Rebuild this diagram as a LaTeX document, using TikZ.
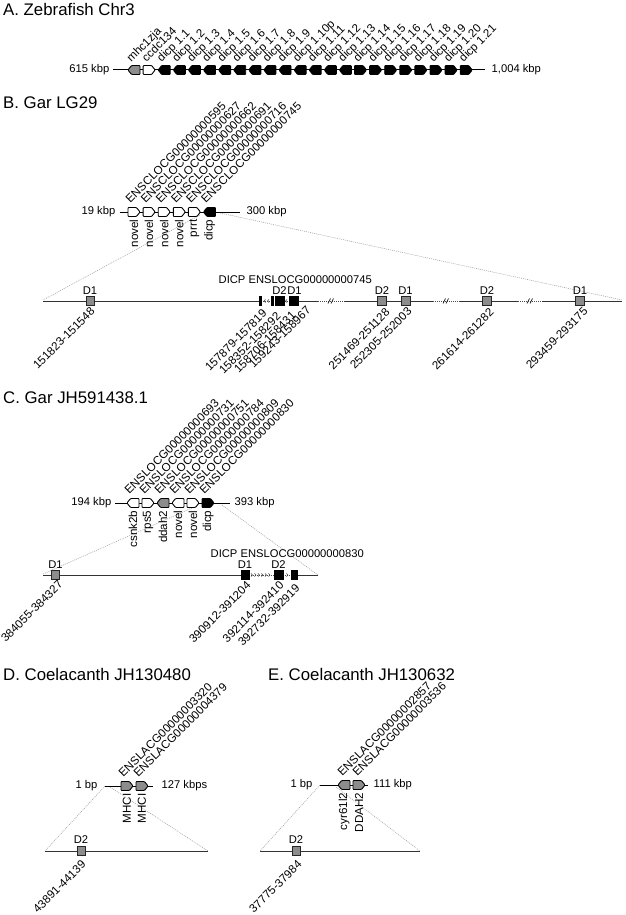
\documentclass[tikz,border=0pt]{standalone}
\usepackage{fontspec}
\setmainfont{Liberation Sans}
\newcommand{\geneR}[3]{\filldraw[genebox,fill=#3] (#1,{#2-4.5}) -- ({#1+8.5},{#2-4.5}) -- ({#1+12},#2) -- ({#1+8.5},{#2+4.5}) -- (#1,{#2+4.5}) -- cycle;}
\newcommand{\geneL}[3]{\filldraw[genebox,fill=#3] ({#1+12},{#2-4.5}) -- ({#1+3.5},{#2-4.5}) -- (#1,#2) -- ({#1+3.5},{#2+4.5}) -- ({#1+12},{#2+4.5}) -- cycle;}
\newcommand{\exonbox}[4]{\filldraw[#4] ({#1-#3/2},{#2-4.5}) rectangle ({#1+#3/2},{#2+4.5});}
\newcommand{\brkmark}[2]{\draw[brk] ({#1-3},{#2+2.5}) -- ({#1-0.5},{#2-2.5}) ({#1},{#2+2.5}) -- ({#1+2.5},{#2-2.5});}
\newcommand{\chevL}[2]{\draw[chev] ({#1+1.5},{#2-1.6}) -- (#1,#2) -- ({#1+1.5},{#2+1.6});}
\newcommand{\chevR}[2]{\draw[chev] ({#1-1.5},{#2-1.6}) -- (#1,#2) -- ({#1-1.5},{#2+1.6});}
\begin{document}
\begin{tikzpicture}[x=1pt,y=-1pt,
  title/.style={font=\fontsize{16.8}{19}\selectfont, anchor=base west, inner sep=0pt},
  lab/.style={font=\fontsize{11.2}{13}\selectfont, inner sep=0.5pt},
  rlab/.style={font=\fontsize{11.6}{13}\selectfont, inner sep=0.5pt},
  genebox/.style={draw=black, line width=0.9pt, rounded corners=0.8pt},
  chrline/.style={draw=black, line width=1pt},
  axisline/.style={draw=black!80, line width=1pt},
  guide/.style={draw=black!40, line width=0.5pt, dash pattern=on 1pt off 1pt},
  exonG/.style={draw=black!85, fill=black!45, line width=0.9pt},
  exonK/.style={fill=black},
  intron/.style={draw=black!70, line width=0.7pt, dash pattern=on 1pt off 1pt},
  chev/.style={draw=black!75, line width=0.55pt},
  brk/.style={draw=black!80, line width=0.7pt},
  rng/.style={rlab, rotate=45, anchor=east},
  upl/.style={rlab, rotate=45, anchor=base west},
  dnl/.style={rlab, rotate=90, anchor=east},
  exl/.style={lab, anchor=base},
]
\useasboundingbox (0,0) rectangle (625,915);

% ---------------- guides (behind) ----------------
\draw[guide] (200,215) -- (43,300);
\draw[guide] (220,213) -- (622,300);
\draw[guide] (192,508) -- (43,574);
\draw[guide] (222,505) -- (318,575);
\draw[guide] (105,786) -- (45,851);
\draw[guide] (110,787) -- (208,851);
\draw[guide] (320,785) -- (260,851);
\draw[guide] (336,787) -- (420,851);

% ---------------- Panel A ----------------
\node[title] (tA) at (3,16) {A. Zebrafish Chr3};
\node[lab, anchor=east] (kA1) at (110,70) {615 kbp};
\node[lab, anchor=west] (kA2) at (491,70) {1,004 kbp};
\draw[chrline] (113,70) -- (485,70);
\foreach \i/\g/\c/\t in {0/\geneL/black!45/mhc1zja,1/\geneR/white/ccdc134,
  2/\geneL/black/dicp 1.1,3/\geneL/black/dicp 1.2,4/\geneL/black/dicp 1.3,
  5/\geneL/black/dicp 1.4,6/\geneL/black/dicp 1.5,7/\geneL/black/dicp 1.6,
  8/\geneL/black/dicp 1.7,9/\geneL/black/dicp 1.8,10/\geneL/black/dicp 1.9,
  11/\geneL/black/dicp 1.10p,12/\geneL/black/dicp 1.11,13/\geneL/black/dicp 1.12,
  14/\geneL/black/dicp 1.13,15/\geneR/black/dicp 1.14,16/\geneR/black/dicp 1.15,
  17/\geneR/black/dicp 1.16,18/\geneR/black/dicp 1.17,19/\geneR/black/dicp 1.18,
  20/\geneR/black/dicp 1.19,21/\geneR/black/dicp 1.20,22/\geneR/black/dicp 1.21}{
  \pgfmathsetmacro{\x}{128+15.1*\i}
  \g{\x}{70}{\c}
  \node[upl] (la\i) at (\x+3,63) {\t};
}

% ---------------- Panel B ----------------
\node[title] (tB) at (3,109) {B. Gar LG29};
\node[lab, anchor=east] (kB1) at (116,212) {19 kbp};
\node[lab, anchor=west] (kB2) at (246,212) {300 kbp};
\draw[chrline] (120,212) -- (240,212);
\foreach \i/\g/\c/\t/\b in {0/\geneR/white/ENSCLOCG00000000595/novel,
  1/\geneR/white/ENSCLOCG00000000627/novel,2/\geneR/white/ENSCLOCG00000000662/novel,
  3/\geneR/white/ENSCLOCG00000000691/novel,4/\geneR/white/ENSCLOCG00000000716/prrt,
  5/\geneL/black/ENSCLOCG00000000745/dicp}{
  \pgfmathsetmacro{\x}{128+15.1*\i}
  \g{\x}{212}{\c}
  \node[upl] (lb\i) at (\x+2,204) {\t};
  \node[dnl] (db\i) at (\x+6,219) {\b};
}
\node[lab, anchor=base west] (dicpB) at (218,283) {DICP ENSLOCG00000000745};
% bottom line B
\draw[axisline] (43,301) -- (259,301);
\draw[intron] (261,301) -- (289,301);
\draw[axisline] (298,301) -- (318,301);
\draw[intron] (318,301) -- (345,301);
\draw[axisline] (345,301) -- (433,301);
\draw[intron] (433,301) -- (460,301);
\draw[axisline] (460,301) -- (518,301);
\draw[intron] (518,301) -- (542,301);
\draw[axisline] (542,301) -- (622,301);
\brkmark{331}{301}
\brkmark{446}{301}
\brkmark{530}{301}
\chevL{264}{301}\chevL{267.5}{301}\chevL{285.5}{301}
\exonbox{90}{301}{8}{exonG}
\exonbox{259.8}{301}{2.2}{exonK}
\exonbox{272}{301}{2.2}{exonK}
\exonbox{279.5}{301}{9}{exonK}
\exonbox{293.5}{301}{9}{exonK}
\exonbox{382}{301}{9}{exonG}
\exonbox{405.5}{301}{9}{exonG}
\exonbox{487}{301}{9}{exonG}
\exonbox{580}{301}{9}{exonG}
\node[exl] (eb1) at (90,294) {D1};
\node[exl] (eb2) at (279.5,294) {D2};
\node[exl] (eb3) at (294.5,294) {D1};
\node[exl] (eb4) at (382,294) {D2};
\node[exl] (eb5) at (405.5,294) {D1};
\node[exl] (eb6) at (487,294) {D2};
\node[exl] (eb7) at (580,294) {D1};
\node[rng] (rb1) at (93,309) {151823-151548};
\node[rng] (rb2) at (265,311) {157879-157819};
\node[rng] (rb3) at (279,314) {158352-158292};
\node[rng] (rb4) at (294,313) {158706-158431};
\node[rng] (rb5) at (309,308) {159243-158967};
\node[rng] (rb6) at (388,310) {251469-251128};
\node[rng] (rb7) at (410,309) {252305-252003};
\node[rng] (rb8) at (492,310) {261614-261282};
\node[rng] (rb9) at (586,309) {293459-293175};

% ---------------- Panel C ----------------
\node[title] (tC) at (3,403) {C. Gar JH591438.1};
\node[lab, anchor=east] (kC1) at (112,503) {194 kbp};
\node[lab, anchor=west] (kC2) at (234,503) {393 kbp};
\draw[chrline] (115,503) -- (230,503);
\foreach \i/\g/\c/\t/\b in {0/\geneL/white/ENSLOCG00000000693/csnk2b,
  1/\geneR/white/ENSLOCG00000000731/rps5,2/\geneL/black!45/ENSLOCG00000000751/ddah2,
  3/\geneL/white/ENSLOCG00000000784/novel,4/\geneR/white/ENSLOCG00000000809/novel,
  5/\geneR/black/ENSLOCG00000000830/dicp}{
  \pgfmathsetmacro{\x}{127+15*\i}
  \g{\x}{503}{\c}
  \node[upl] (lc\i) at (\x+2,495) {\t};
  \node[dnl] (dc\i) at (\x+6,510) {\b};
}
\node[lab, anchor=base west] (dicpC) at (210,557) {DICP ENSLOCG00000000830};
\draw[axisline] (43,575) -- (241,575);
\draw[intron] (249,575) -- (291,575);
\draw[axisline] (297,575) -- (318,575);
\foreach \k in {252.5,256,259.5,263,266.5,270} {\chevR{\k}{575}}
\chevR{288}{575}
\exonbox{55.5}{575}{8}{exonG}
\exonbox{245}{575}{8}{exonK}
\exonbox{278.5}{575}{9}{exonK}
\exonbox{294}{575}{6}{exonK}
\node[exl] (ec1) at (55.5,568) {D1};
\node[exl] (ec2) at (245,568) {D1};
\node[exl] (ec3) at (278.5,568) {D2};
\node[rng] (rc1) at (61,582) {384055-384327};
\node[rng] (rc2) at (249,583) {390912-391204};
\node[rng] (rc3) at (282,583) {392114-392410};
\node[rng] (rc4) at (298,586) {392732-392919};

% ---------------- Panel D ----------------
\node[title] (tD) at (3,680) {D. Coelacanth JH130480};
\node[lab, anchor=east] (kD1) at (98,786) {1 bp};
\node[lab, anchor=west] (kD2) at (161,786) {127 kbps};
\draw[chrline] (105,786) -- (153,786);
\geneR{121}{786}{black!45}
\geneR{136}{786}{black!45}
\node[upl] (ld1) at (123,778) {ENSLACG00000003320};
\node[upl] (ld2) at (138,778) {ENSLACG00000004379};
\node[dnl] (dd1) at (127,793) {MHCI};
\node[dnl] (dd2) at (142,793) {MHCI};
\draw[axisline] (45,851) -- (208,851);
\exonbox{81}{851}{8}{exonG}
\node[exl] (ed1) at (81,843) {D2};
\node[rng] (rd1) at (84,862) {43891-44139};

% ---------------- Panel E ----------------
\node[title] (tE) at (268,680) {E. Coelacanth JH130632};
\node[lab, anchor=east] (kE1) at (313,785) {1 bp};
\node[lab, anchor=west] (kE2) at (373,785) {111 kbp};
\draw[chrline] (320,785) -- (368,785);
\geneL{338}{785}{black!45}
\geneR{353}{785}{black!45}
\node[upl] (le1) at (342,777) {ENSLACG00000002857};
\node[upl] (le2) at (357,777) {ENSLACG00000003536};
\node[dnl] (de1) at (344,792) {cyr61l2};
\node[dnl] (de2) at (359,792) {DDAH2};
\draw[axisline] (260,851) -- (420,851);
\exonbox{296}{851}{8}{exonG}
\node[exl] (ee1) at (296,843) {D2};
\node[rng] (re1) at (300,862) {37775-37984};
\end{tikzpicture}
\end{document}
